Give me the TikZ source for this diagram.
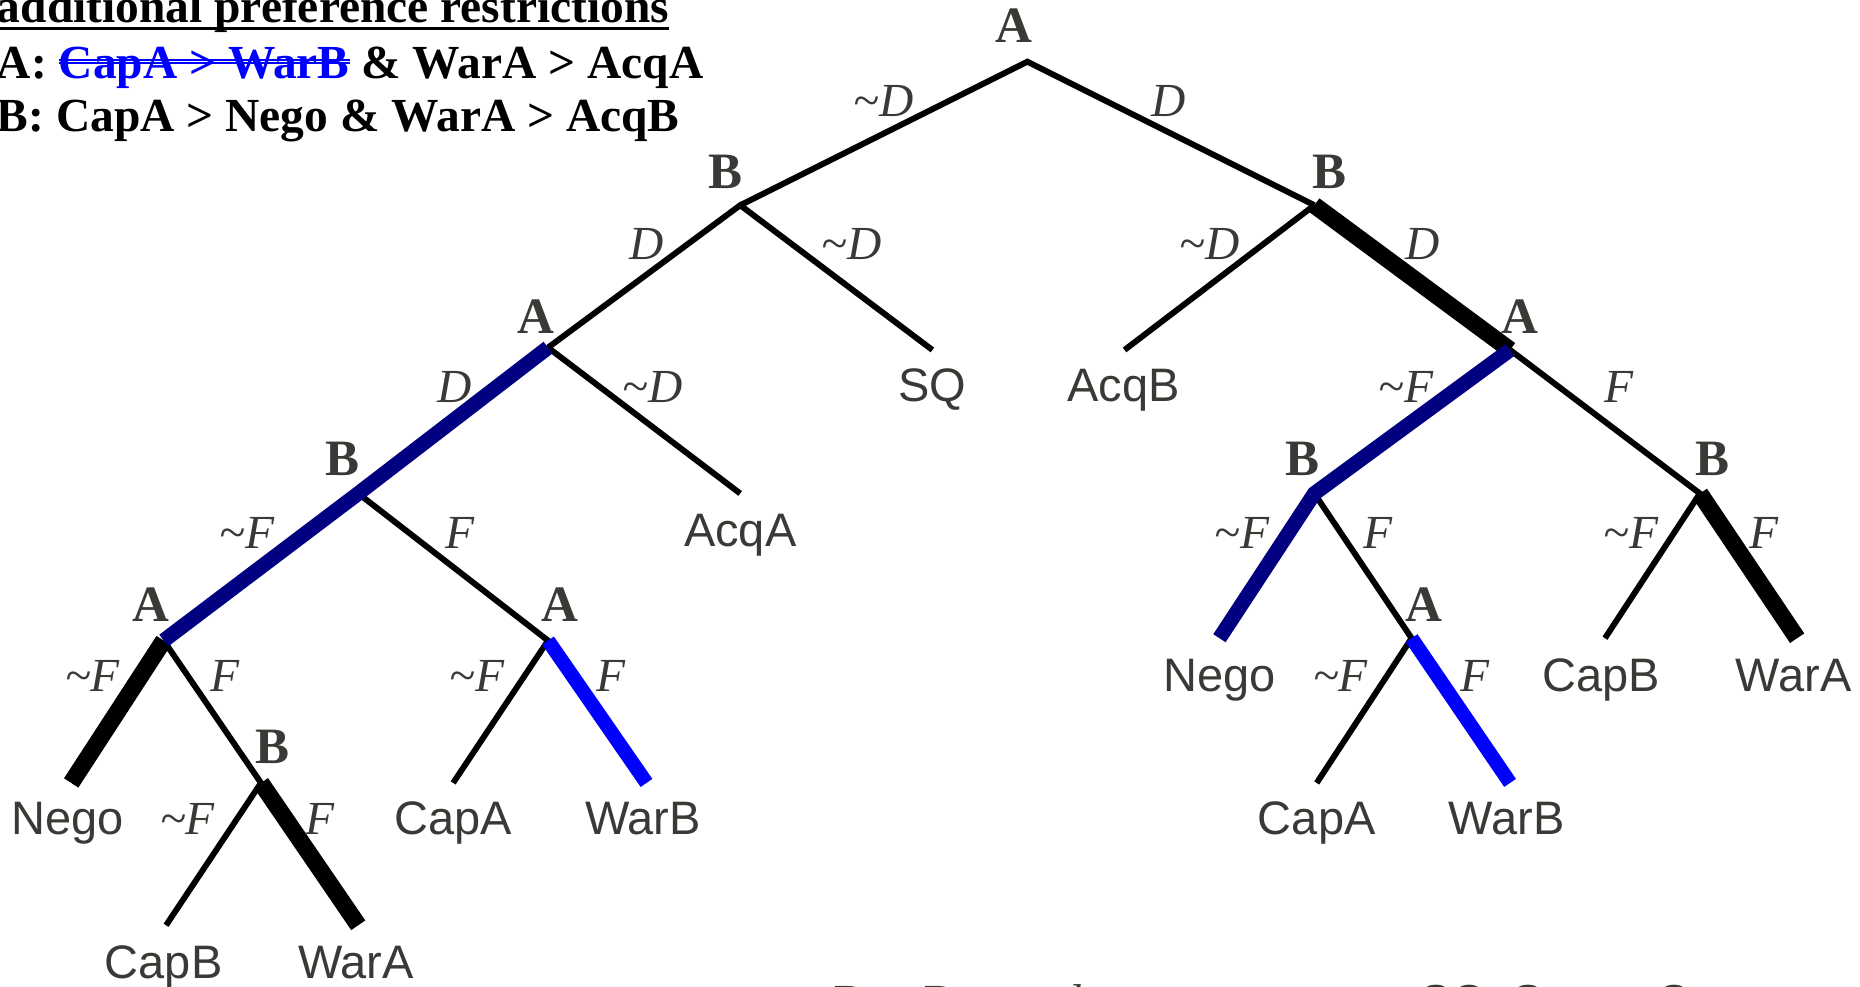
\documentclass[tikz,border=0pt]{standalone}
\usepackage{fontspec}
\setmainfont{Liberation Serif}
\setsansfont{Liberation Sans}
\usetikzlibrary{calc}

\definecolor{ink}{HTML}{3B3935}
\definecolor{navyb}{HTML}{000080}
\definecolor{brightb}{HTML}{0000FF}

% struck-out text with a thin double line
\newcommand{\struckout}[1]{\sbox0{#1}%
  \rlap{\raisebox{0.30em}{\rule{\wd0}{0.7pt}}}%
  \rlap{\raisebox{0.30em}{\raisebox{1.3pt}{\rule{\wd0}{0.7pt}}}}%
  \usebox0}
\newcommand{\nd}{\textasciitilde}

\tikzset{
  player/.style={font=\bfseries\fontsize{21.5}{21.5}\selectfont, text=ink, inner sep=0pt},
  move/.style={font=\itshape\fontsize{20}{20}\selectfont, text=ink, inner sep=0pt},
  outcome/.style={font=\sffamily\fontsize{19.8}{19.8}\selectfont, text=ink, inner sep=0pt, anchor=mid},
  heading/.style={font=\bfseries\fontsize{20}{20}\selectfont, text=black, inner sep=0pt, anchor=base west},
  branch/.style={line width=2.5pt, black},
  heavy/.style={line width=7.2pt, black},
  navypath/.style={line width=6.2pt, navyb},
  bluepath/.style={line width=6pt, brightb},
}

\begin{document}
\begin{tikzpicture}[x=0.5pt, y=-0.5pt]
\useasboundingbox (0,0) rectangle (1568,832);

% ---- decision points and terminal points ----
\coordinate (r)     at (866,52);
\coordinate (bL)    at (624,173);
\coordinate (bR)    at (1108,173);
\coordinate (sq)    at (786,295);
\coordinate (acqb)  at (948,295);
\coordinate (aL)    at (462,293);
\coordinate (aR)    at (1273,295);
\coordinate (acqa)  at (624,416);
\coordinate (bLL)   at (302,416);
\coordinate (aLL)   at (138,540);
\coordinate (aLR)   at (462,540);
\coordinate (negoL) at (60,660);
\coordinate (bLLL)  at (220,660);
\coordinate (capbL) at (140,780);
\coordinate (waraL) at (302,780);
\coordinate (capaL) at (382,660);
\coordinate (warbL) at (545,660);
\coordinate (bRL)   at (1108,416);
\coordinate (bRR)   at (1433,416);
\coordinate (negoR) at (1028,538);
\coordinate (aRL)   at (1190,538);
\coordinate (capaR) at (1110,660);
\coordinate (warbR) at (1273,660);
\coordinate (capbR) at (1353,538);
\coordinate (waraR) at (1515,538);

% ---- ordinary branches ----
\draw[branch] (bL) -- (r) -- (bR);
\draw[branch] (aL) -- (bL) -- (sq);
\draw[branch] (acqb) -- (bR);
\draw[branch] (aL) -- (acqa);
\draw[branch] (bLL) -- (aLR) -- (capaL);
\draw[branch] (aLL) -- (bLLL) -- (capbL);
\draw[branch] (aR) -- (bRR) -- (capbR);
\draw[branch] (bRL) -- (aRL) -- (capaR);

% ---- highlighted branches ----
\draw[heavy] (bR) -- (aR);
\draw[heavy] (aLL) -- (negoL);
\draw[heavy] (bLLL) -- (waraL);
\draw[heavy] (bRR) -- (waraR);
\draw[navypath] (aL) -- (bLL) -- (aLL);
\draw[navypath] (aR) -- (bRL) -- (negoR);
\draw[bluepath] (aLR) -- (warbL);
\draw[bluepath] (aRL) -- (warbR);

% ---- players ----
\node[player] (p-r)    at (855,22)  {A};
\node[player] (p-bL)   at (612,145) {B};
\node[player] (p-bR)   at (1121,145) {B};
\node[player] (p-aL)   at (452,267) {A};
\node[player] (p-aR)   at (1281,267) {A};
\node[player] (p-bLL)  at (289,387) {B};
\node[player] (p-bRL)  at (1098,387) {B};
\node[player] (p-bRR)  at (1444,387) {B};
\node[player] (p-aLL)  at (127,510) {A};
\node[player] (p-aLR)  at (472,510) {A};
\node[player] (p-aRL)  at (1200,510) {A};
\node[player] (p-bLLL) at (230,630) {B};

% ---- moves ----
\node[move] (m1)  at (745,85)   {\nd D};
\node[move] (m2)  at (985,85)   {D};
\node[move] (m3)  at (545,206)  {D};
\node[move] (m4)  at (718,206)  {\nd D};
\node[move] (m5)  at (1020,206) {\nd D};
\node[move] (m6)  at (1199,206) {D};
\node[move] (m7)  at (383,326)  {D};
\node[move] (m8)  at (550,326)  {\nd D};
\node[move] (m9)  at (1185,326) {\nd F};
\node[move] (m10) at (1365,326) {F};
\node[move] (m11) at (208,449)  {\nd F};
\node[move] (m12) at (388,449)  {F};
\node[move] (m13) at (1047,449) {\nd F};
\node[move] (m14) at (1162,449) {F};
\node[move] (m15) at (1375,449) {\nd F};
\node[move] (m16) at (1487,449) {F};
\node[move] (m17) at (78,570)   {\nd F};
\node[move] (m18) at (190,570)  {F};
\node[move] (m19) at (402,570)  {\nd F};
\node[move] (m20) at (515,570)  {F};
\node[move] (m21) at (1130,570) {\nd F};
\node[move] (m22) at (1243,570) {F};
\node[move] (m23) at (158,690)  {\nd F};
\node[move] (m24) at (270,690)  {F};

% ---- outcomes ----
\node[outcome] (o-sq)    at (786,334)  {SQ};
\node[outcome] (o-acqb)  at (947,334)  {AcqB};
\node[outcome] (o-acqa)  at (624,456)  {AcqA};
\node[outcome] (o-negoL) at (57,699)   {Nego};
\node[outcome] (o-capbL) at (138,820)  {CapB};
\node[outcome] (o-waraL) at (300,820)  {WarA};
\node[outcome] (o-capaL) at (382,699)  {CapA};
\node[outcome] (o-warbL) at (542,699)  {WarB};
\node[outcome] (o-negoR) at (1028,578) {Nego};
\node[outcome] (o-capaR) at (1110,699) {CapA};
\node[outcome] (o-warbR) at (1270,699) {WarB};
\node[outcome] (o-capbR) at (1350,578) {CapB};
\node[outcome] (o-waraR) at (1512,578) {WarA};

% ---- preference restrictions ----
\node[heading] (h1) at (-3,19) {additional preference restrictions};
\draw[line width=1.4pt] ($(h1.base west)+(0,5)$) -- ($(h1.base east)+(0,5)$);
\node[heading] (h2) at (-3,66) {A: {\color{brightb}\struckout{CapA > WarB}} \& WarA > AcqA};
\node[heading] (h3) at (-3,111) {B: CapA > Nego \& WarA > AcqB};

% ---- legend along the lower edge ----
\node[font=\itshape\fontsize{20}{20}\selectfont, text=ink, inner sep=0pt, anchor=north west] (leg1) at (700,830) {D = Demand};
\node[font=\sffamily\fontsize{19.5}{19.5}\selectfont, text=ink, inner sep=0pt, anchor=north west] (leg2) at (1197,830) {SQ: Status Quo};
\end{tikzpicture}
\end{document}
